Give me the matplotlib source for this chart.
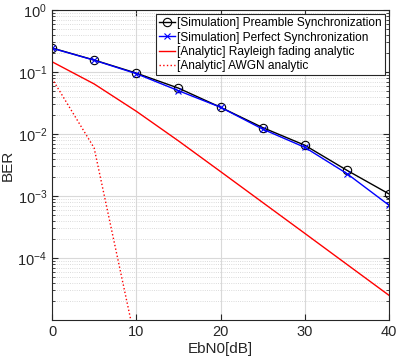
import numpy as np
import matplotlib
matplotlib.use('Agg')
import matplotlib.pyplot as plt

plt.rcParams['font.family'] = ['Liberation Sans', 'DejaVu Sans']
plt.rcParams['mathtext.fontset'] = 'custom'
plt.rcParams['mathtext.rm'] = 'Liberation Sans'
plt.rcParams['mathtext.it'] = 'Liberation Sans:italic'
plt.rcParams['mathtext.bf'] = 'Liberation Sans:bold'

# EbN0 points [dB]
ebn0 = [0, 5, 10, 15, 20, 25, 30, 35, 40]

# simulated BER
ber_preamble = [0.244, 0.156, 0.096, 0.055, 0.027, 0.0127, 0.0066, 0.0026, 0.00108]
ber_perfect = [0.242, 0.155, 0.094, 0.050, 0.027, 0.0120, 0.0061, 0.0023, 0.00071]

# analytic curves
ber_rayleigh = [0.1464, 0.0642, 0.0233, 0.00776, 0.00248, 0.000787, 0.000250, 7.9e-5, 2.5e-5]
ebn0_awgn = [0, 5, 10]
ber_awgn = [0.0786, 0.00596, 3.87e-6]

labels = ['[Simulation] Preamble Synchronization',
          '[Simulation] Perfect Synchronization',
          '[Analytic] Rayleigh fading analytic',
          '[Analytic] AWGN analytic']

fig = plt.figure(figsize=(3.96, 3.6), dpi=100)
ax = fig.add_axes([52/396, 40/360, 337/396, 310/360])

ax.semilogy(ebn0, ber_preamble, 'k-o', lw=1, ms=6, mfc='none', mew=0.8, label=labels[0])
ax.semilogy(ebn0, ber_perfect, 'b-x', lw=1, ms=5, mew=0.8, label=labels[1])
ax.semilogy(ebn0, ber_rayleigh, 'r-', lw=1, label=labels[2])
ax.semilogy(ebn0_awgn, ber_awgn, 'r:', lw=1, label=labels[3])

ax.set_xlim(0, 40)
ax.set_ylim(1e-5, 1)
ax.set_xticks([0, 10, 20, 30, 40])
ax.set_yticks([1e0, 1e-1, 1e-2, 1e-3, 1e-4])

ax.grid(True, which='major', color='#d9d9d9', lw=0.8)
ax.yaxis.grid(True, which='minor', color='#cfcfcf', ls=':', lw=0.6)
ax.set_axisbelow(True)

ax.tick_params(which='both', direction='in', top=True, right=True, labelsize=10.5, colors='#262626')
ax.tick_params(which='major', length=4)
ax.tick_params(which='minor', length=2)
for s in ax.spines.values():
    s.set_color('#262626')
    s.set_linewidth(0.8)

ax.set_xlabel('EbN0[dB]', fontsize=11, color='#262626', labelpad=2)
ax.set_ylabel('BER', fontsize=11, color='#262626', labelpad=2)

leg = ax.legend(loc='upper right', fontsize=8.6, fancybox=False, edgecolor='#262626',
                framealpha=1, borderpad=0.25, labelspacing=0.2, handlelength=1.3,
                handletextpad=0.2, borderaxespad=0.35)
leg.get_frame().set_linewidth(0.8)

fig.savefig('out.png', dpi=100)
